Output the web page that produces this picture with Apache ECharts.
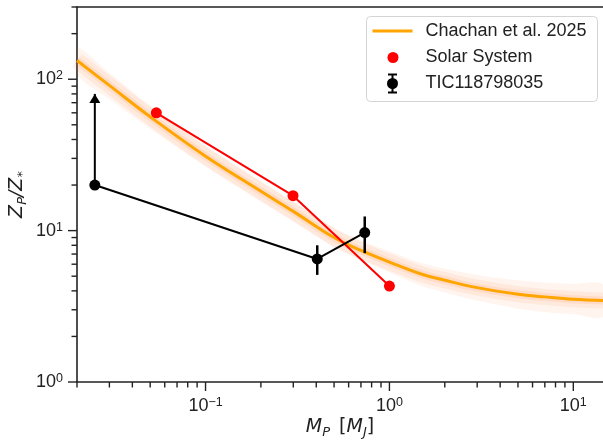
<!DOCTYPE html>
<html><head><meta charset="utf-8">
<script src="https://cdn.jsdelivr.net/npm/echarts@6/dist/echarts.min.js"></script>
<style>html,body{margin:0;padding:0;background:#fff}#c{width:603px;height:440px}</style>
</head><body><div id="c"></div>
<script>
// Axis ranges
const xMin = 0.02, xMax = 14.5, yMin = 1, yMax = 300;
// Chachan et al. 2025 relation
const curveM = [0.02, 0.03, 0.05, 0.1, 0.2, 0.3, 0.5, 0.7, 1.0, 1.5, 2, 3, 5, 7, 10, 14.5];
const curveZ = [133, 91, 56.5, 31, 18.2, 13.4, 9.0, 7.4, 6.2, 5.15, 4.7, 4.2, 3.8, 3.65, 3.52, 3.45];
const bandHi = [162, 110, 67, 36.5, 21.3, 15.5, 10.4, 8.6, 7.3, 6.1, 5.6, 5.1, 4.7, 4.55, 4.45, 4.4];
const bandLo = [108, 74, 47, 26.5, 15.5, 11.5, 7.8, 6.4, 5.3, 4.3, 3.9, 3.45, 3.05, 2.9, 2.8, 2.7];
// Solar System
const solarM = [0.054, 0.299, 1.0];
const solarZ = [60, 17, 4.3];
// TIC118798035
const ticM = [0.025, 0.405, 0.734];
const ticZ = [20, 6.5, 9.7];
const ticErrLo = [null, 5.1, 7.1];
const ticErrHi = [null, 8.0, 12.4];
const limitM = 0.025, limitFrom = 20, limitTo = 80;

const TXT = '#222';
const FONT = 'Liberation Sans, Arial, Helvetica, sans-serif';
const MATH = 'DejaVu Sans, sans-serif';

// tick positions (decades and minor 2..9)
const xTicks = [], yTicks = [];
for (let k = -2; k <= 2; k++) for (let m = 1; m <= 9; m++) {
  const v = +(m * Math.pow(10, k)).toPrecision(6);
  if (v >= xMin - 1e-9 && v <= xMax + 1e-9) xTicks.push([v, m === 1 ? 1 : 0]);
  if (v >= yMin - 1e-9 && v <= yMax + 1e-9) yTicks.push([v, m === 1 ? 1 : 0]);
}

function powLabel(v) {
  const e = Math.log10(v), r = Math.round(e);
  if (Math.abs(e - r) > 1e-6) return '';
  return '{b|10}{s|' + (r < 0 ? '\u2212' + (-r) : r) + '}';
}
const labelRich = {
  b: { fontSize: 18, fontFamily: FONT, color: TXT, lineHeight: 20 },
  s: { fontSize: 12.5, fontFamily: FONT, color: TXT, lineHeight: 12, verticalAlign: 'top' }
};
const titleRich = {
  i: { fontSize: 19, fontStyle: 'italic', fontFamily: MATH, color: TXT, lineHeight: 24 },
  n: { fontSize: 19, fontFamily: MATH, color: TXT, lineHeight: 24 },
  g: { fontSize: 19, fontFamily: MATH, color: TXT, lineHeight: 24, width: 9 },
  sub: { fontSize: 13, fontStyle: 'italic', fontFamily: MATH, color: TXT, lineHeight: 12, verticalAlign: 'bottom' }
};

const chart = echarts.init(document.getElementById('c'), null, { renderer: 'canvas' });
const axisLine = { show: true, lineStyle: { color: TXT, width: 1.6 } };

const option = {
  animation: false,
  backgroundColor: '#fff',
  grid: { left: 77, right: 0, top: 7, bottom: 58, containLabel: false, outerBoundsMode: 'none' },
  xAxis: [{
    type: 'log', logBase: 10, min: xMin, max: xMax, position: 'bottom',
    axisLine: axisLine, axisTick: { show: false }, splitLine: { show: false },
    axisLabel: { formatter: powLabel, rich: labelRich, margin: 14, showMinLabel: false, showMaxLabel: false },
    name: '{i|M}{sub|P}{g| }{n|[}{i|M}{sub|J}{n|]}',
    nameLocation: 'middle', nameGap: 33, nameMoveOverlap: false,
    nameTextStyle: { rich: titleRich }
  }, {
    type: 'log', logBase: 10, min: xMin, max: xMax, position: 'top',
    axisLine: axisLine, axisTick: { show: false }, axisLabel: { show: false }, splitLine: { show: false }
  }],
  yAxis: [{
    type: 'log', logBase: 10, min: yMin, max: yMax,
    axisLine: axisLine, axisTick: { show: false }, splitLine: { show: false },
    axisLabel: { formatter: powLabel, rich: labelRich, margin: 14, showMaxLabel: false },
    name: '{i|Z}{sub|P}{i|/Z}{sub|*}',
    nameLocation: 'middle', nameGap: 48, nameRotate: 90, nameMoveOverlap: false,
    nameTextStyle: { rich: titleRich }
  }],
  series: [
    { // uncertainty band
      type: 'custom', name: 'band', silent: true, clip: true, z: 1,
      data: [[curveM[0], curveZ[0]]],
      renderItem: function (params, api) {
        const pts = [];
        for (let i = 0; i < curveM.length; i++) pts.push(api.coord([curveM[i], bandHi[i]]));
        for (let i = curveM.length - 1; i >= 0; i--) pts.push(api.coord([curveM[i], bandLo[i]]));
        return { type: 'polygon', shape: { points: pts, smooth: 0.3 }, style: { fill: 'rgba(255,130,70,0.09)' } };
      }
    },
    { type: 'line', name: 'glow1', silent: true, smooth: 0.4, symbol: 'none', z: 2,
      data: curveM.map((m, i) => [m, curveZ[i]]),
      lineStyle: { color: 'rgba(255,120,50,0.09)', width: 16 } },
    { type: 'line', name: 'glow2', silent: true, smooth: 0.4, symbol: 'none', z: 2,
      data: curveM.map((m, i) => [m, curveZ[i]]),
      lineStyle: { color: 'rgba(255,120,50,0.12)', width: 8 } },
    { type: 'line', name: 'Chachan et al. 2025', smooth: 0.4, symbol: 'none', z: 3,
      data: curveM.map((m, i) => [m, curveZ[i]]),
      lineStyle: { color: '#FFA500', width: 3 } },
    { type: 'line', name: 'Solar System', z: 5,
      data: solarM.map((m, i) => [m, solarZ[i]]),
      symbol: 'circle', symbolSize: 11,
      itemStyle: { color: '#FF0000' }, lineStyle: { color: '#FF0000', width: 2 } },
    { type: 'line', name: 'limit', z: 5, silent: true,
      data: [
        { value: [limitM, limitFrom], symbol: 'none' },
        { value: [limitM, limitTo], symbol: 'triangle', symbolSize: [11, 9], symbolOffset: [0, 4.5] }
      ],
      itemStyle: { color: '#000' }, lineStyle: { color: '#000', width: 2 } },
    { type: 'custom', name: 'errorbars', z: 6, clip: false,
      data: ticM.map((m, i) => [m, ticErrLo[i], ticErrHi[i]]).filter(d => d[1] != null),
      encode: { x: 0, y: [1, 2] },
      renderItem: function (params, api) {
        const a = api.coord([api.value(0), api.value(1)]);
        const b = api.coord([api.value(0), api.value(2)]);
        return { type: 'line', shape: { x1: a[0], y1: a[1], x2: b[0], y2: b[1] }, style: { stroke: '#000', lineWidth: 2.5 } };
      }
    },
    { type: 'line', name: 'TIC118798035', z: 7,
      data: ticM.map((m, i) => [m, ticZ[i]]),
      symbol: 'circle', symbolSize: 11,
      itemStyle: { color: '#000' }, lineStyle: { color: '#000', width: 2 } },
    { type: 'custom', name: 'xticks', silent: true, clip: false, z: 8,
      data: xTicks,
      renderItem: function (params, api) {
        const p = api.coord([api.value(0), yMin]);
        const len = api.value(1) ? 9 : 5.5;
        return { type: 'line', shape: { x1: p[0], y1: p[1], x2: p[0], y2: p[1] + len }, style: { stroke: TXT, lineWidth: 1.4 } };
      }
    },
    { type: 'custom', name: 'yticks', silent: true, clip: false, z: 8,
      data: yTicks.map(t => [xMin, t[0], t[1]]),
      renderItem: function (params, api) {
        const p = api.coord([xMin, api.value(1)]);
        const len = api.value(2) ? 9 : 5.5;
        return { type: 'line', shape: { x1: p[0] - len, y1: p[1], x2: p[0], y2: p[1] }, style: { stroke: TXT, lineWidth: 1.4 } };
      }
    }
  ],
  graphic: [{
    type: 'group', left: 366, top: 16, z: 100,
    children: [
      { type: 'rect', shape: { x: 0, y: 0, width: 231, height: 85, r: 4 },
        style: { fill: 'rgba(255,255,255,0.85)', stroke: '#d4d4d4', lineWidth: 1 } },
      { type: 'line', shape: { x1: 6, y1: 14.5, x2: 46, y2: 14.5 }, style: { stroke: '#FFA500', lineWidth: 3 } },
      { type: 'text', x: 59, y: 14.5, style: { text: 'Chachan et al. 2025', font: '18px ' + FONT, fill: TXT, verticalAlign: 'middle' } },
      { type: 'circle', shape: { cx: 26.5, cy: 41, r: 5.5 }, style: { fill: '#FF0000' } },
      { type: 'text', x: 59, y: 41, style: { text: 'Solar System', font: '18px ' + FONT, fill: TXT, verticalAlign: 'middle' } },
      { type: 'line', shape: { x1: 26, y1: 58, x2: 26, y2: 76 }, style: { stroke: '#000', lineWidth: 2 } },
      { type: 'line', shape: { x1: 21.5, y1: 58, x2: 30.5, y2: 58 }, style: { stroke: '#000', lineWidth: 2 } },
      { type: 'line', shape: { x1: 21.5, y1: 76, x2: 30.5, y2: 76 }, style: { stroke: '#000', lineWidth: 2 } },
      { type: 'circle', shape: { cx: 26, cy: 67, r: 5.5 }, style: { fill: '#000' } },
      { type: 'text', x: 59, y: 67, style: { text: 'TIC118798035', font: '18px ' + FONT, fill: TXT, verticalAlign: 'middle' } }
    ]
  }]
};
chart.setOption(option);
</script>
</body></html>
